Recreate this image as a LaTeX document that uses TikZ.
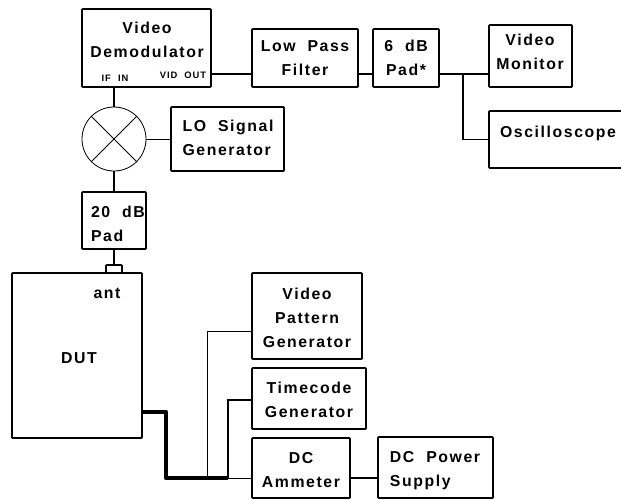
\documentclass[tikz,border=0pt]{standalone}
\usepackage{fontspec}
\setmainfont[LetterSpace=10,WordSpace=2]{Liberation Sans}
\usetikzlibrary{calc, positioning}

\tikzset{
    block/.style={draw, line width=1.3pt, outer sep=0pt, inner sep=0pt, rounded corners=0.5pt, font=\bfseries\fontsize{13.5}{20.4}\selectfont, align=center},
    boxsize/.style 2 args={minimum width=#1*0.03cm, minimum height=#2*0.03cm},
    txt/.style={inner sep=0pt, font=\bfseries\fontsize{13.5}{20.4}\selectfont, align=center},
    tiny lbl/.style={inner sep=0pt, font=\bfseries\fontsize{8}{9}\selectfont},
    wire/.style={line width=1.1pt},
    thin wire/.style={line width=0.7pt},
    heavy wire/.style={line width=3.6pt, line join=round}
}

\begin{document}
\begin{tikzpicture}[x=0.03cm, y=-0.03cm]
    \clip (0,0) rectangle (621,499);

    % Upper chain
    \node[block, boxsize={129}{78}] (demod) at (146.5,48) {};
    \node[txt] (demodtxt) at (147,40) {Video\\Demodulator};
    \node[tiny lbl] (ifin) at (115,78.5) {IF IN};
    \node[tiny lbl] (vidout) at (183,75) {VID OUT};
    \node[block, boxsize={106}{58}] (lowpass) at (305,58) {Low Pass\\Filter};
    \node[block, boxsize={66}{58}] (sixpad) at (406,58) {6 dB\\Pad*};
    \node[block, boxsize={83}{62}] (monitor) at (530.5,56) {};
    \node[txt] (monitortxt) at (530,52) {Video\\Monitor};
    \node[block, boxsize={140}{57}] (scope) at (559,139.5) {};
    \node[txt] (scopetxt) at (558,133) {Oscilloscope};

    % Mixer and pads
    \node[circle, draw, line width=0.7pt, outer sep=0pt, minimum size=64*0.03cm] (mixer) at (114,139) {};
    \node[block, boxsize={113}{64}] (lo) at (227.5,139) {};
    \node[txt, align=left] (lotxt) at (228,138) {LO Signal\\Generator};
    \node[block, boxsize={64}{57}] (pad) at (114,220.5) {};
    \node[txt, align=left] (padtxt) at (118,224) {20 dB\\Pad};

    % DUT
    \node[block, boxsize={16}{8}] (conn) at (114,269) {};
    \node[block, boxsize={130}{165}] (dut) at (77,355.5) {};
    \node[txt] (anttxt) at (107,293) {ant};
    \node[txt] (duttxt) at (79,358) {DUT};

    % Lower right blocks
    \node[block, boxsize={110}{86}] (pattern) at (307,316) {};
    \node[txt] (patterntxt) at (307,318) {Video\\Pattern\\Generator};
    \node[block, boxsize={114}{61}] (timecode) at (309,398.5) {};
    \node[txt] (timecodetxt) at (309,400) {Timecode\\Generator};
    \node[block, boxsize={98}{60}] (ammeter) at (301,468) {};
    \node[txt] (ammetertxt) at (301,470) {DC\\Ammeter};
    \node[block, boxsize={115}{61}] (supply) at (435.5,467.5) {};
    \node[txt, align=left] (supplytxt) at (435,471) {DC Power\\Supply};

    % Connection points
    \coordinate (demodout) at (demod.east |- 0,74);
    \coordinate (tap) at (463,74);
    \coordinate (dutout) at (dut.east |- 0,412);
    \coordinate (bendtop) at (166,412);
    \coordinate (bendlow) at (166,478);
    \coordinate (amin) at (ammeter.west |- 0,478);
    \coordinate (suppin) at (supply.west |- 0,478);
    \coordinate (patbase) at (207,478);
    \coordinate (patin) at (pattern.west |- 0,331);
    \coordinate (tcbase) at (228,478);
    \coordinate (tcin) at (timecode.west |- 0,400);

    % Signal path
    \draw[wire] (demodout) -- (demodout -| lowpass.west);
    \draw[wire] (demodout -| lowpass.east) -- (demodout -| sixpad.west);
    \draw[wire] (demodout -| sixpad.east) -- (demodout -| monitor.west);
    \draw[wire] (tap) |- (scope.west);
    \draw[wire] (mixer.north) -- (mixer.north |- demod.south);
    \draw[wire] (mixer.south) -- (pad.north);
    \draw[wire] (pad.south) -- (conn.north);
    \draw[thin wire] (mixer.east) -- (lo.west);
    \draw[thin wire] (mixer.45) -- (mixer.225);
    \draw[thin wire] (mixer.135) -- (mixer.315);

    % Supply and control lines
    \draw[heavy wire] (dutout) -- (bendtop) -- (bendlow) -- (tcbase);
    \draw[thin wire] (tcbase) -- (amin);
    \draw[thin wire] (patbase) |- (patin);
    \draw[wire] (tcbase) |- (tcin);
    \draw[wire] (amin -| ammeter.east) -- (suppin);
\end{tikzpicture}
\end{document}
